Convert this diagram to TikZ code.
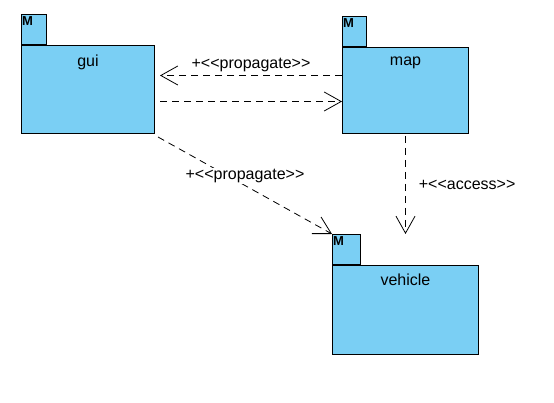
\documentclass[tikz,border=0pt]{standalone}
\usepackage{fontspec}
\setmainfont{Liberation Sans}
\usetikzlibrary{arrows.meta,calc}
\definecolor{pkgblue}{RGB}{122,207,244}
\newcommand{\stereo}[1]{+<\kern0pt<#1>\kern0pt>}

\begin{document}
\begin{tikzpicture}[x=1pt,y=-1pt,
                    font=\fontsize{16}{19}\selectfont,
                    pkg/.style={draw,fill=pkgblue,line width=1pt,anchor=north west,inner sep=0pt},
                    pkgtab/.style={draw,fill=pkgblue,line width=1pt,anchor=south west,inner sep=0pt,minimum height=30pt},
                    pkgname/.style={anchor=north,inner sep=0pt},
                    pkgmark/.style={anchor=north west,inner sep=0pt,font=\fontsize{13}{13}\bfseries\selectfont},
                    dep/.style={draw,line width=0.8pt,dash pattern=on 7pt off 5pt,-{Straight Barb[length=17pt,width=19pt,line width=0.8pt]}},
                    deplabel/.style={inner sep=1pt}
]
\useasboundingbox (0,0) rectangle (554,403);

% packages
\node [pkg, minimum width=133pt, minimum height=88pt] at (21,45) (gui) {};
\node [pkgtab, minimum width=25pt] at (gui.north west) (guitab) {};
\node [pkgmark] at ($(guitab.north west)+(1pt,-2pt)$) (guim) {M};
\node [pkgname] at ($(gui.north)+(0,-10pt)$) (guiname) {gui};

\node [pkg, minimum width=126pt, minimum height=86pt] at (342,47) (map) {};
\node [pkgtab, minimum width=24pt] at (map.north west) (maptab) {};
\node [pkgmark] at ($(maptab.north west)+(1pt,-2pt)$) (mapm) {M};
\node [pkgname] at ($(map.north)+(0,-10pt)$) (mapname) {map};

\node [pkg, minimum width=146pt, minimum height=89pt] at (332,265) (vehicle) {};
\node [pkgtab, minimum width=28pt] at (vehicle.north west) (vehicletab) {};
\node [pkgmark] at ($(vehicletab.north west)+(1pt,-2pt)$) (vehiclem) {M};
\node [pkgname] at ($(vehicle.north)+(0,-9pt)$) (vehiclename) {vehicle};
%
\coordinate (mapout) at ($(map.west)+(0,15pt)$);
\coordinate (guiin) at ($(mapout -| gui.east)+(5pt,0)$);
\coordinate (guiout) at ($(gui.east)+(5pt,-12pt)$);
\coordinate (mapin) at (guiout -| map.west);
\coordinate (guidown) at ($(gui.south east)+(3pt,-3pt)$);
\coordinate (mapdown) at ($(map.south)+(0,-2pt)$);
\coordinate (vehicleup) at (mapdown |- vehicletab.north);

\draw [dep] (mapout) -- (guiin) node[midway,above=2pt,deplabel] (lblpropa) {\stereo{propagate}};
\draw [dep] (guiout) -- (mapin);
\draw [dep] (guidown) -- (vehicletab.north west) node[midway,above=1pt,fill=white,deplabel] (lblpropb) {\stereo{propagate}};
\draw [dep] (mapdown) -- (vehicleup) node[midway,right=12pt,deplabel] (lblaccess) {\stereo{access}};
\end{tikzpicture}
\end{document}
